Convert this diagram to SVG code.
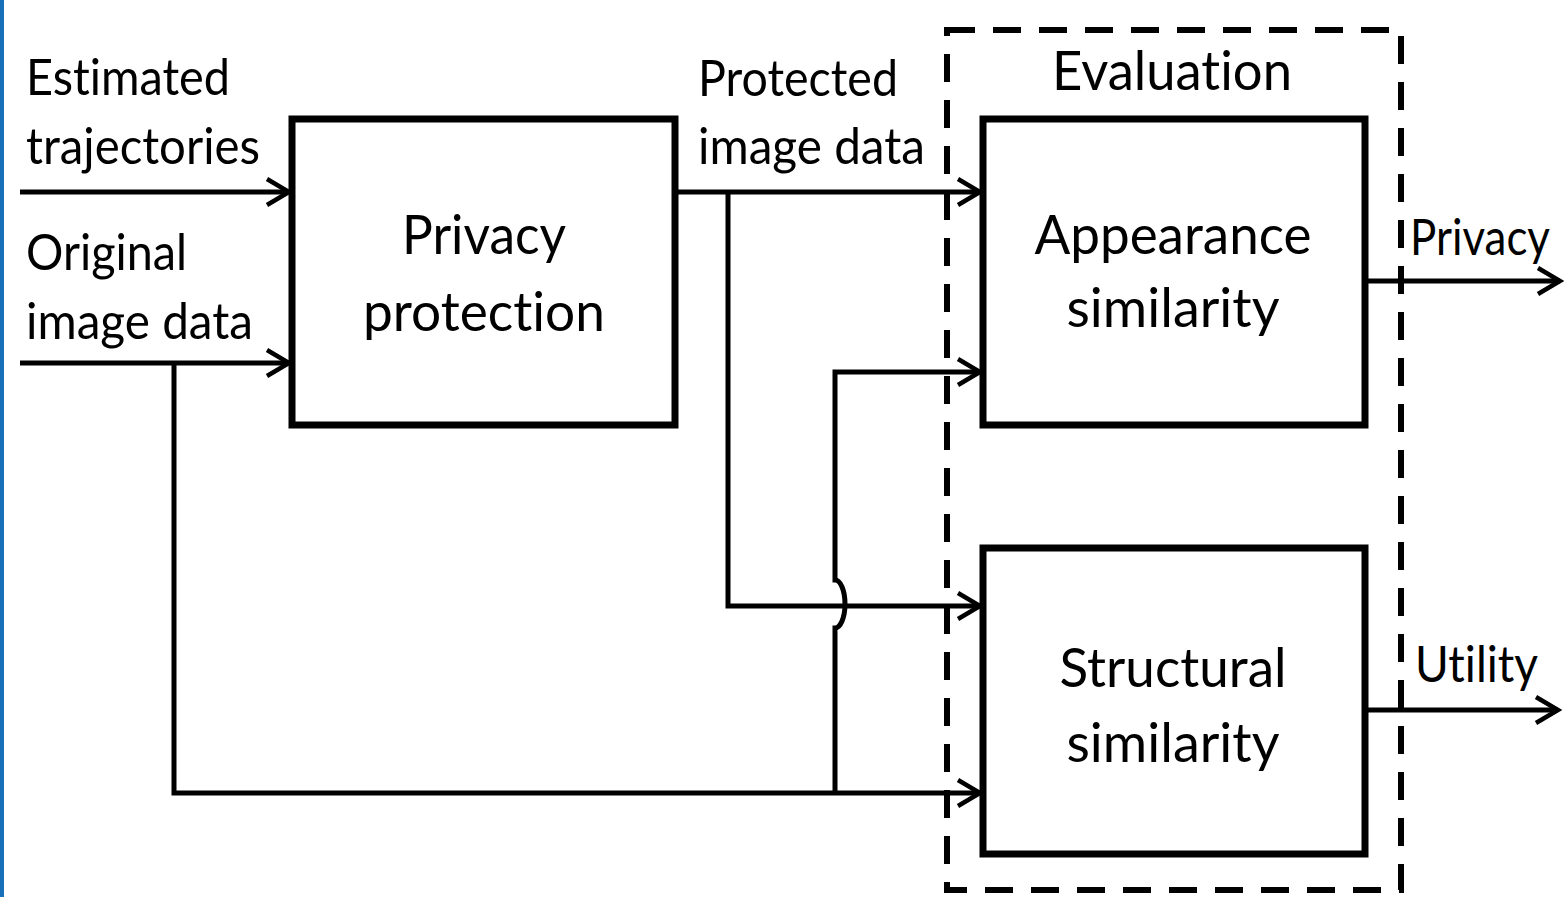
<svg xmlns="http://www.w3.org/2000/svg" width="1564" height="897" viewBox="0 0 1564 897">
<defs>
<style>
.box{fill:#fff;stroke:#000;stroke-width:7}
.dash{fill:none;stroke:#000;stroke-width:6;stroke-dasharray:28 18}
.ln{fill:none;stroke:#000;stroke-width:5}
.t{font-family:Lato,"Liberation Sans",sans-serif;font-size:50px;fill:#000;font-variant-ligatures:none;font-feature-settings:"liga" 0,"dlig" 0}
.b{font-family:Lato,"Liberation Sans",sans-serif;font-size:54px;fill:#000;text-anchor:middle;font-variant-ligatures:none}
</style>
<marker id="ah" viewBox="0 0 30 30" refX="26" refY="15" markerWidth="30" markerHeight="30" markerUnits="userSpaceOnUse" orient="auto">
<path d="M4,2 L26,15 L4,28" fill="none" stroke="#000" stroke-width="4.5"/>
</marker>
</defs>
<rect x="0" y="0" width="1564" height="897" fill="#fff"/>
<rect x="0" y="0" width="4" height="897" fill="#1a70b8"/>

<g id="evaluation">
<rect class="dash" x="947" y="30" width="454" height="860"/>
<text class="b" x="1172" y="90" textLength="240" lengthAdjust="spacingAndGlyphs">Evaluation</text>
</g>

<g id="privacy-protection">
<rect class="box" x="292" y="119" width="383" height="306"/>
<text class="b" x="484" y="254" textLength="164" lengthAdjust="spacingAndGlyphs">Privacy</text>
<text class="b" x="484" y="331" textLength="242" lengthAdjust="spacingAndGlyphs">protection</text>
</g>

<g id="appearance-similarity">
<rect class="box" x="983" y="119" width="382" height="306"/>
<text class="b" x="1173" y="254" textLength="277" lengthAdjust="spacingAndGlyphs">Appearance</text>
<text class="b" x="1173" y="327" textLength="213" lengthAdjust="spacingAndGlyphs">similarity</text>
</g>

<g id="structural-similarity">
<rect class="box" x="983" y="548" width="382" height="306"/>
<text class="b" x="1173" y="687" textLength="227" lengthAdjust="spacingAndGlyphs">Structural</text>
<text class="b" x="1173" y="762" textLength="213" lengthAdjust="spacingAndGlyphs">similarity</text>
</g>

<g id="labels">
<text class="t" x="26" y="95" textLength="204" lengthAdjust="spacingAndGlyphs">Estimated</text>
<text class="t" x="26" y="164" textLength="234" lengthAdjust="spacingAndGlyphs">trajectories</text>
<text class="t" x="26" y="270" textLength="161" lengthAdjust="spacingAndGlyphs">Original</text>
<text class="t" x="26" y="339" textLength="227" lengthAdjust="spacingAndGlyphs">image data</text>
<text class="t" x="698" y="96" textLength="200" lengthAdjust="spacingAndGlyphs">Protected</text>
<text class="t" x="698" y="164" textLength="227" lengthAdjust="spacingAndGlyphs">image data</text>
<text class="t" x="1410" y="255" font-size="48" textLength="140" lengthAdjust="spacingAndGlyphs">Privacy</text>
<text class="t" x="1415" y="682" textLength="123" lengthAdjust="spacingAndGlyphs">Utility</text>
</g>

<g id="connectors">
<path class="ln" d="M20,192 H289" marker-end="url(#ah)"/>
<path class="ln" d="M20,363 H289" marker-end="url(#ah)"/>
<path class="ln" d="M676,192 H980" marker-end="url(#ah)"/>
<path class="ln" d="M728,192 V606 H980" marker-end="url(#ah)"/>
<path class="ln" d="M174,363 V793 H980" marker-end="url(#ah)"/>
<path class="ln" d="M835,793 V628 A10 24 0 0 0 835,580 V372 H980" marker-end="url(#ah)"/>
<path class="ln" d="M1365,281 H1560" marker-end="url(#ah)"/>
<path class="ln" d="M1365,710 H1558" marker-end="url(#ah)"/>
</g>
</svg>
